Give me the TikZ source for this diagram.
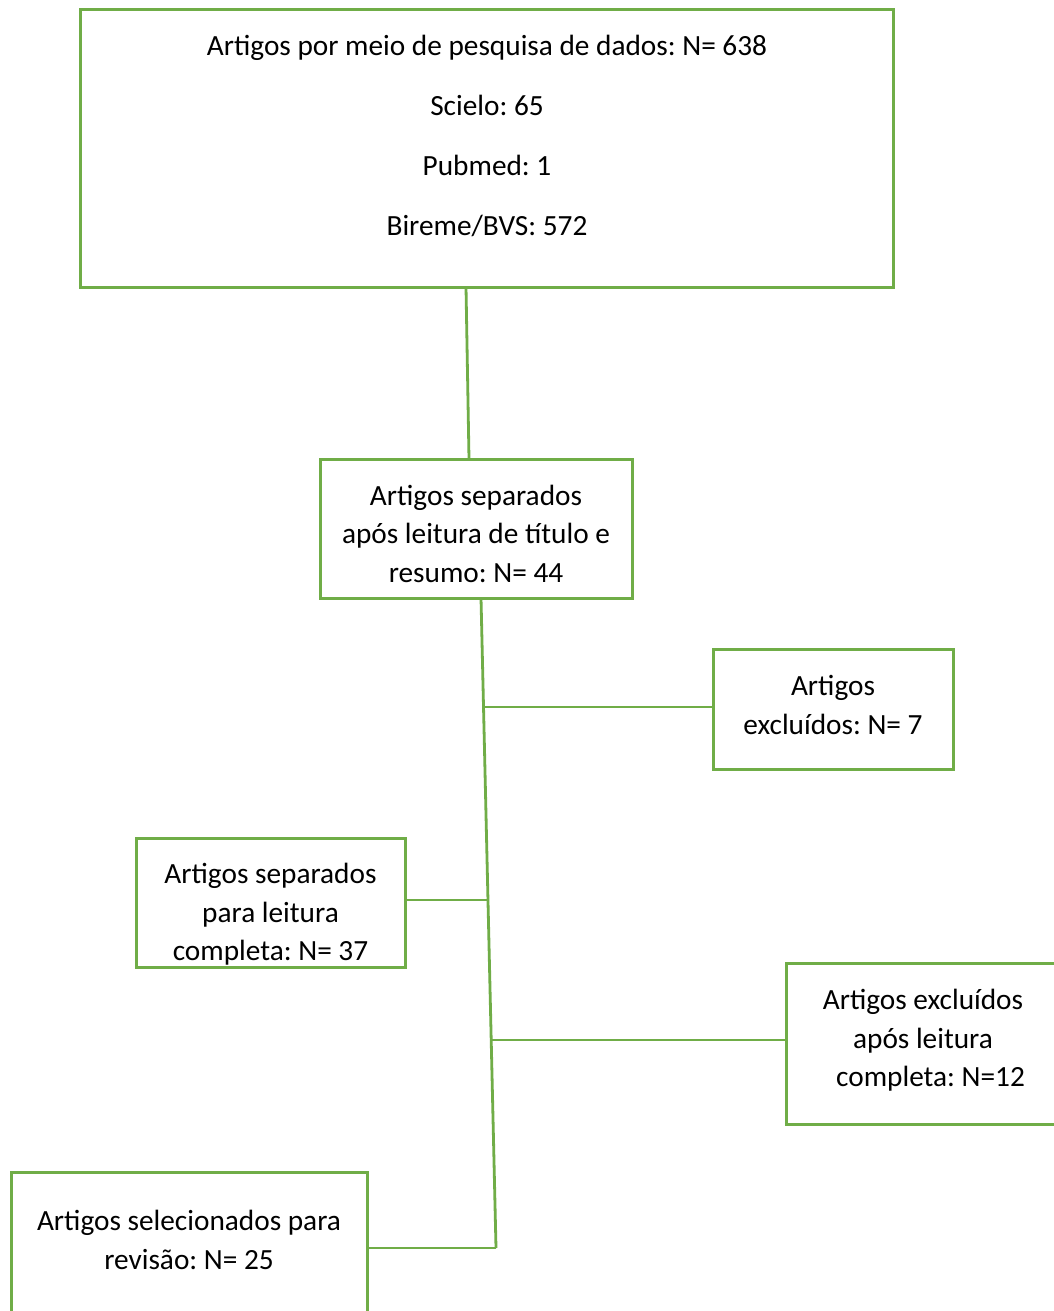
\documentclass[tikz,border=0pt]{standalone}
\usepackage{fontspec}
\setmainfont{Carlito}
\frenchspacing
\usetikzlibrary{calc}
\definecolor{ogreen}{HTML}{70AD47}
\begin{document}
\begin{tikzpicture}[x=1pt,y=-1pt,
  box/.style={draw=ogreen,line width=3pt,inner sep=0pt,outer sep=0pt},
  txt/.style={align=center,inner sep=0pt,text=black,font=\fontsize{29.3}{38.5}\selectfont\frenchspacing},
  link/.style={draw=ogreen,line width=2.8pt}]
\useasboundingbox (0,0) rectangle (1054,1311);
\fill[white] (0,0) rectangle (1054,1311);
\clip (0,0) rectangle (1054,1311);

% boxes
\node[box,minimum width=813pt,minimum height=277pt] (b1) at (486.5,148.5) {};
\node[box,minimum width=312pt,minimum height=139pt] (b2) at (476,528.5) {};
\node[box,minimum width=240pt,minimum height=120pt] (b3) at (833,709) {};
\node[box,minimum width=269pt,minimum height=129pt] (b4) at (270.5,902.5) {};
\node[box,minimum width=274pt,minimum height=161pt] (b5) at (923,1043.5) {};
\node[box,minimum width=356pt,minimum height=148pt] (b6) at (189,1246) {};

% texts
\node[txt] (t1) at (487,136) {Artigos por meio de pesquisa de dados: N= 638\\[21.5pt]
  Scielo: 65\\[21.5pt] Pubmed: 1\\[21.5pt] Bireme/BVS: 572};
\node[txt] (t2) at (476,533.5) {Artigos separados\\ após leitura de título e\\ resumo: N= 44};
\node[txt] (t3) at (833,705) {Artigos\\ excluídos: N= 7};
\node[txt] (t4) at (270.5,914.5) {Artigos separados\\ para leitura\\ completa: N= 37};
\node[txt] (t5) at (923,1040.5) {Artigos excluídos\\ após leitura\\ \hspace*{15pt}completa: N=12};
\node[txt] (t6) at (189,1240) {Artigos selecionados para\\ revisão: N= 25};

% connectors
\coordinate (p1) at ([xshift=-20.5pt]b1.south);
\coordinate (p2) at ([xshift=-7pt]b2.north);
\draw[link] (p1) -- (p2);

\coordinate (ttop) at ([xshift=5pt]b2.south);
\coordinate (tbot) at (496,1248);
\draw[link] (ttop) -- (tbot);

\coordinate (j3) at ($(ttop)!0.1677!(tbot)$);
\coordinate (j4) at ($(ttop)!0.4646!(tbot)$);
\coordinate (j5) at ($(ttop)!0.68!(tbot)$);
\draw[link] (j3) -- (j3 -| b3.west);
\draw[link] (j4) -- (j4 -| b4.east);
\draw[link] (j5) -- (j5 -| b5.west);
\draw[link] (tbot) -- (tbot -| b6.east);
\end{tikzpicture}
\end{document}
